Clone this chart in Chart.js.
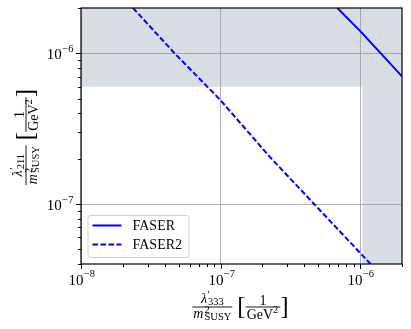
<!DOCTYPE html>
<html>
<head>
<meta charset="utf-8">
<script src="https://cdn.jsdelivr.net/npm/chart.js@4/dist/chart.umd.min.js"></script>
<style>
  body { margin: 0; background: #fff; }
  #wrap { width: 411px; height: 329px; }
</style>
</head>
<body>
<div id="wrap"><canvas id="grafico"></canvas></div>
<script>
// FASER (linha sólida)
const faserX = [6.89e-7, 1e-6, 1.41e-6, 2e-6];
const faserY = [2e-6, 1.41e-6, 1e-6, 7.03e-7];
// FASER2 (tracejada)
const faser2X = [2.36e-8, 4.69e-8, 9.9e-8, 2.24e-7, 4.69e-7, 1.19e-6];
const faser2Y = [2e-6, 1e-6, 4.94e-7, 2.07e-7, 1e-7, 4e-8];
// região excluída (cinza)
const shadeX = [1e-8, 1.04e-6, 1.04e-6, 2e-6];
const shadeY = [6e-7, 6e-7, 4e-8, 4e-8];

const xLimits = [1e-8, 2e-6];
const yLimits = [4e-8, 2e-6];
const xMajor = [1e-8, 1e-7, 1e-6];
const yMajor = [1e-7, 1e-6];
const xTickLabels = ['10^−8', '10^−7', '10^−6'];
const yTickLabels = ['10^−7', '10^−6'];
const legendLabels = ['FASER', 'FASER2'];

const AZUL = '#0000ff';
const TRACO = [5.5, 2.5];
const SERIF = '"Liberation Serif", "DejaVu Serif", serif';

function pontos(xs, ys) {
  return xs.map((x, i) => ({ x: x, y: ys[i] }));
}

// ticks maiores e menores de uma escala log
function ticksLog(lim) {
  const lista = [];
  for (let e = Math.floor(Math.log10(lim[0])); e <= Math.ceil(Math.log10(lim[1])); e++) {
    for (let m = 1; m <= 9; m++) {
      const v = Number((m * Math.pow(10, e)).toPrecision(8));
      if (v >= lim[0] * 0.999 && v <= lim[1] * 1.001) lista.push({ value: v, major: m === 1 });
    }
  }
  return lista;
}

function rotuloDe(valor, maiores, rotulos) {
  const i = maiores.findIndex(m => Math.abs(m - valor) / m < 1e-6);
  return i >= 0 ? rotulos[i] : null;
}

// "10^−7" -> base + expoente
function potencia(ctx, txt, x, yBase, yExp, alinhar) {
  const [base, exp] = txt.split('^');
  ctx.font = '15px ' + SERIF;
  const wb = ctx.measureText(base).width;
  ctx.font = '10.5px ' + SERIF;
  const we = ctx.measureText(exp).width;
  let x0 = alinhar === 'right' ? x - wb - we : x - (wb + we) / 2;
  ctx.font = '15px ' + SERIF;
  ctx.fillText(base, x0, yBase);
  ctx.font = '10.5px ' + SERIF;
  ctx.fillText(exp, x0 + wb + 0.5, yExp);
}

// título do eixo: λ'_sub / m²_SUSY  [1/GeV²]
function tituloEixo(ctx, cx, ly, sub) {
  const big = '14px ' + SERIF, bigIt = 'italic 14px ' + SERIF, small = '10.5px ' + SERIF, br = '25px ' + SERIF;
  ctx.font = bigIt; const wL = ctx.measureText('λ').width; const wM = ctx.measureText('m').width;
  ctx.font = small; const wSub = ctx.measureText(sub).width; const wSusy = ctx.measureText('SUSY').width; const wSq = ctx.measureText('2').width;
  ctx.font = big; const wOne = ctx.measureText('1').width; const wGeV = ctx.measureText('GeV').width;
  ctx.font = br; const wBr = ctx.measureText('[').width;
  const numW = wL + wSub + 1;
  const denW = wM + wSusy + 1;
  const f1W = Math.max(numW, denW) + 2;
  const f2W = wGeV + wSq + 3;
  const gap = 5;
  const total = f1W + gap + wBr + f2W + wBr;
  const x = cx - total / 2;

  // fração 1
  const c1 = x + f1W / 2;
  const n0 = c1 - numW / 2;
  ctx.font = bigIt; ctx.fillText('λ', n0, ly - 4.5);
  ctx.font = small; ctx.fillText('′', n0 + wL + 0.5, ly - 9.5);
  ctx.fillText(sub, n0 + wL + 1, ly - 2.5);
  ctx.fillRect(c1 - f1W / 2, ly - 0.45, f1W, 0.9);
  const d0 = c1 - denW / 2;
  ctx.font = bigIt; ctx.fillText('m', d0, ly + 11);
  ctx.font = small; ctx.fillText('2', d0 + wM + 1, ly + 6);
  ctx.fillText('SUSY', d0 + wM + 1, ly + 12.5);

  // colchetes e 1/GeV²
  const x2 = x + f1W + gap;
  ctx.font = br; ctx.fillText('[', x2, ly + 7);
  const c2 = x2 + wBr + f2W / 2;
  ctx.font = big; ctx.fillText('1', c2 - wOne / 2, ly - 2.5);
  ctx.fillRect(c2 - f2W / 2, ly - 0.45, f2W, 0.9);
  ctx.fillText('GeV', c2 - f2W / 2 + 1, ly + 11.5);
  ctx.font = small; ctx.fillText('2', c2 - f2W / 2 + 1 + wGeV, ly + 6);
  ctx.font = br; ctx.fillText(']', c2 + f2W / 2, ly + 7);
}

const desenhos = {
  id: 'desenhos',
  afterDraw(chart) {
    const ctx = chart.ctx;
    const a = chart.chartArea;
    const sx = chart.scales.x, sy = chart.scales.y;
    ctx.save();
    ctx.fillStyle = '#000';
    ctx.strokeStyle = '#000';
    ctx.textBaseline = 'alphabetic';
    ctx.textAlign = 'left';

    // moldura
    ctx.lineWidth = 1.2;
    ctx.strokeRect(a.left, a.top, a.right - a.left, a.bottom - a.top);

    // ticks
    ctx.lineWidth = 1;
    sx.ticks.forEach(t => {
      const p = Math.round(sx.getPixelForValue(t.value)) + 0.5;
      ctx.beginPath(); ctx.moveTo(p, a.bottom); ctx.lineTo(p, a.bottom + (t.major ? 5 : 3)); ctx.stroke();
      const r = rotuloDe(t.value, xMajor, xTickLabels);
      if (r) potencia(ctx, r, p, a.bottom + 21, a.bottom + 13, 'center');
    });
    sy.ticks.forEach(t => {
      const p = Math.round(sy.getPixelForValue(t.value)) + 0.5;
      ctx.beginPath(); ctx.moveTo(a.left, p); ctx.lineTo(a.left - (t.major ? 5 : 3), p); ctx.stroke();
      const r = rotuloDe(t.value, yMajor, yTickLabels);
      if (r) potencia(ctx, r, a.left - 8, p + 5.5, p - 1.5, 'right');
    });

    // títulos dos eixos
    tituloEixo(ctx, (a.left + a.right) / 2 - 1, 307, '333');
    ctx.save();
    ctx.translate(26, (a.top + a.bottom) / 2 + 1);
    ctx.rotate(-Math.PI / 2);
    tituloEixo(ctx, 0, 0, '211');
    ctx.restore();

    // legenda
    const lx = a.left + 6.5, ly = a.bottom - 49, lw = 101, lh = 42;
    ctx.beginPath();
    ctx.roundRect(lx + 0.5, ly + 0.5, lw, lh, 3);
    ctx.fillStyle = 'rgba(255,255,255,0.8)';
    ctx.fill();
    ctx.strokeStyle = '#d0d0d0';
    ctx.lineWidth = 1;
    ctx.stroke();
    legendLabels.forEach((nome, i) => {
      const y = ly + 10.5 + i * 19;
      ctx.strokeStyle = AZUL;
      ctx.lineWidth = 2;
      ctx.setLineDash(i === 1 ? TRACO : []);
      ctx.beginPath(); ctx.moveTo(lx + 5, y); ctx.lineTo(lx + 34, y); ctx.stroke();
      ctx.setLineDash([]);
      ctx.fillStyle = '#000';
      ctx.font = '14px ' + SERIF;
      ctx.textBaseline = 'middle';
      ctx.fillText(nome, lx + 45, y + 0.5);
      ctx.textBaseline = 'alphabetic';
    });
    ctx.restore();
  }
};

function eixo(lim, altura) {
  return {
    type: 'logarithmic',
    min: lim[0],
    max: lim[1],
    afterBuildTicks: s => { s.ticks = ticksLog(lim); },
    afterFit: s => { if (altura.w) s.width = altura.w; else s.height = altura.h; },
    grid: {
      color: c => (c.tick && c.tick.major) ? '#b0b0b0' : 'rgba(0,0,0,0)',
      lineWidth: 1,
      drawTicks: false
    },
    border: { display: false },
    ticks: { display: false }
  };
}

new Chart(document.getElementById('grafico'), {
  type: 'line',
  data: {
    datasets: [
      {
        label: legendLabels[0],
        data: pontos(faserX, faserY),
        borderColor: AZUL,
        borderWidth: 2,
        pointRadius: 0,
        fill: false
      },
      {
        label: legendLabels[1],
        data: pontos(faser2X, faser2Y),
        borderColor: AZUL,
        borderWidth: 2,
        borderDash: TRACO,
        pointRadius: 0,
        fill: false
      },
      {
        label: 'excluído',
        data: pontos(shadeX, shadeY),
        borderColor: 'rgba(0,0,0,0)',
        borderWidth: 1,
        backgroundColor: 'rgba(140,155,175,0.33)',
        pointRadius: 0,
        fill: 'end'
      }
    ]
  },
  options: {
    responsive: true,
    maintainAspectRatio: false,
    animation: false,
    devicePixelRatio: 1,
    layout: { padding: { top: 8, right: 9, left: 0, bottom: 0 } },
    plugins: { legend: { display: false }, tooltip: { enabled: false } },
    scales: {
      x: eixo(xLimits, { h: 65 }),
      y: eixo(yLimits, { w: 81 })
    }
  },
  plugins: [desenhos]
});
</script>
</body>
</html>
